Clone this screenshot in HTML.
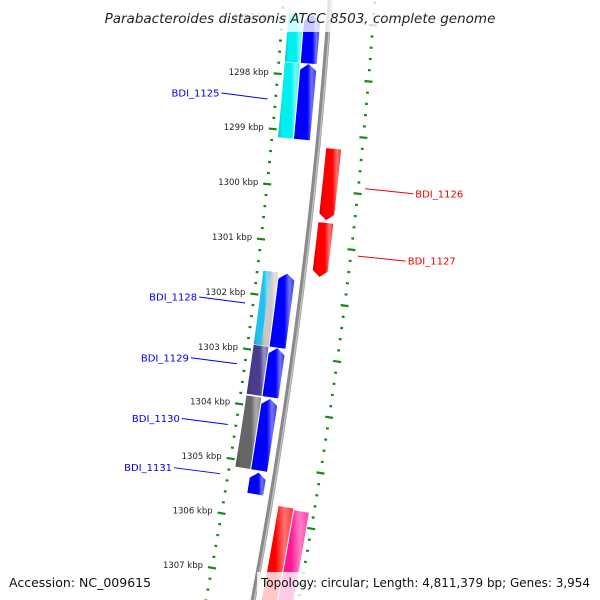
<!DOCTYPE html>
<html><head><meta charset="utf-8">
<style>
html,body{margin:0;padding:0;background:#fff;overflow:hidden;width:600px;height:600px;}
svg{display:block;font-family:"DejaVu Sans","Liberation Sans",sans-serif;overflow:hidden;}
</style></head>
<body>
<svg id="map" width="600" height="600" viewBox="0 0 600 600" xmlns="http://www.w3.org/2000/svg">
<defs id="defs"><clipPath id="frame"><rect x="0" y="0" width="600" height="600"/></clipPath></defs>
<g clip-path="url(#frame)">
<g id="ticks"></g>
<g id="backbone"></g>
<g id="genes"></g>
<g id="labels"></g>
<rect x="98" y="0" width="404" height="32" fill="#fff" fill-opacity="0.78"/>
<text x="300" y="23" text-anchor="middle" font-size="13.5" font-style="italic" fill="#222">Parabacteroides distasonis ATCC 8503, complete genome</text>
<text x="9" y="587" font-size="12.5" fill="#111">Accession: NC_009615</text>
<rect x="257" y="572" width="343" height="28" fill="#fff" fill-opacity="0.78"/>
<text x="261" y="587" font-size="12.5" textLength="329" lengthAdjust="spacingAndGlyphs" fill="#111">Topology: circular; Length: 4,811,379 bp; Genes: 3,954</text>
</g>
</svg>
<script>
// gene data (kbp)
const geneStart  = [1296.9, 1297.78, 1296.9, 1297.78, 1299.25, 1300.58, 1301.56, 1301.56, 1301.56, 1302.91, 1302.91, 1303.83, 1303.83, 1305.17, 1305.70, 1305.73];
const geneEnd    = [1297.77, 1299.14, 1297.77, 1299.14, 1300.53, 1301.55, 1302.90, 1302.90, 1302.90, 1303.80, 1303.80, 1305.13, 1305.13, 1305.56, 1308.7, 1308.7];
const geneLane   = ["cogA","cogA","rev","rev","fwd","fwd","cogA","cogB","rev","cogA","rev","cogA","rev","rev","fwd","fwd2"];
const geneArrow  = [0,0,-1,-1,1,1,0,0,-1,0,-1,0,-1,-1,0,0];
const geneColor  = ["#00f0f0","#00f0f0","#0000ff","#0000ff","#ff0000","#ff0000","#20c0f0","#c8c8c8","#0000ff","#4a3c8c","#0000ff","#666666","#0000ff","#0000ff","#ff0000","#ff1493"];
const tickMajors = [1297,1298,1299,1300,1301,1302,1303,1304,1305,1306,1307];
const labelNames = ["BDI_1125","BDI_1126","BDI_1127","BDI_1128","BDI_1129","BDI_1130","BDI_1131"];
const labelColors= ["#0000ee","#ee0000","#ee0000","#0000ee","#0000ee","#0000ee","#0000ee"];
const labelKbp   = [1298.47,1299.9,1301.1,1302.18,1303.29,1304.4,1305.3];
const labelSide  = [-1,1,1,-1,-1,-1,-1];

const NS="http://www.w3.org/2000/svg";
const R=5200, PX=55.4;
const B=[247,349], th=7.9*Math.PI/180;
const cx=B[0]-R*Math.cos(th), cy=B[1]-R*Math.sin(th);
const angB=Math.atan2(B[1]-cy,B[0]-cx);
function P(k,d){const a=angB+(k-1303)*PX/R; const r=R+d; return [cx+r*Math.cos(a), cy+r*Math.sin(a)];}
const laneD={cogA:[6,21],cogB:[13.5,21],rev:[22,38],fwd:[55,70],fwd2:[71,86]};
function mk(tag,attrs,parent){const e=document.createElementNS(NS,tag);for(const k in attrs)e.setAttribute(k,attrs[k]);parent.appendChild(e);return e;}
function pts(a){return a.map(p=>p[0].toFixed(2)+","+p[1].toFixed(2)).join(" ");}

// ticks
const tg=document.getElementById('ticks');
for(let i=0;i<=60;i++){
  const k=1296.6+i*0.2; const major=Math.abs(k-Math.round(k))<0.01;
  [0,91].forEach(d0=>{
    const len=major?4:1.4;
    const a=P(k,d0-len), b=P(k,d0+len);
    const l=mk('line',{x1:a[0],y1:a[1],x2:b[0],y2:b[1],stroke:'#138a13','stroke-width':2.2},tg);
    
    
  });
}
tickMajors.forEach(k=>{
  const p=P(k,-9);
  const t=mk('text',{x:p[0],y:p[1]+2,'text-anchor':'end','font-size':8.5,fill:'#222'},tg);
  t.textContent=k+" kbp";
  
  
});

// backbone
const bg=document.getElementById('backbone');
function band(k1,k2,d1,d2,fill,parent,arrow){
  const n=20, out=[], inn=[]; const ah=0.11;
  let a1=k1,a2=k2;
  if(arrow<0)a1=k1+ah; if(arrow>0)a2=k2-ah;
  for(let i=0;i<=n;i++){const k=a1+(a2-a1)*i/n; out.push(P(k,d1)); inn.push(P(k,d2));}
  let poly=[];
  if(arrow<0){poly.push(P(k1,(d1+d2)/2));}
  poly=poly.concat(out);
  if(arrow>0){poly.push(P(k2,(d1+d2)/2));}
  poly=poly.concat(inn.reverse());
  return mk('polygon',{points:pts(poly),fill:fill},parent);
}
let e=band(1296,1309,44,49,'#8a8a8a',bg,0);  
e=band(1296,1309,47,48.5,'#c0c0c0',bg,0);  

// genes
const gg=document.getElementById('genes');
function lighten(c,f){const n=parseInt(c.slice(1),16);let r=n>>16,g=(n>>8)&255,b=n&255;r=Math.round(r+(255-r)*f);g=Math.round(g+(255-g)*f);b=Math.round(b+(255-b)*f);return `rgb(${r},${g},${b})`;}
function darken(c,f){const n=parseInt(c.slice(1),16);let r=n>>16,g=(n>>8)&255,b=n&255;return `rgb(${Math.round(r*(1-f))},${Math.round(g*(1-f))},${Math.round(b*(1-f))})`;}
const defs=document.getElementById('defs');
geneStart.forEach((s,i)=>{
  const id='g'+i;
  const lg=mk('linearGradient',{id:id,x1:0,y1:0,x2:1,y2:0},defs);
  mk('stop',{offset:0,'stop-color':darken(geneColor[i],0.2)},lg);
  mk('stop',{offset:0.2,'stop-color':geneColor[i]},lg);
  mk('stop',{offset:0.6,'stop-color':geneColor[i]},lg);
  mk('stop',{offset:0.8,'stop-color':lighten(geneColor[i],0.45)},lg);
  mk('stop',{offset:1,'stop-color':lighten(geneColor[i],0.2)},lg);
  const d=laneD[geneLane[i]];
  const dd = geneLane[i]==='cogA' && geneColor[i]==='#20c0f0' ? [6,13.5] : d;
  const p=band(s,geneEnd[i],dd[0],dd[1],'url(#'+id+')',gg,geneArrow[i]);
  
  
});

// labels
const lgp=document.getElementById('labels');
labelNames.forEach((nm,i)=>{
  const side=labelSide[i];
  const a = side<0 ? P(labelKbp[i],-8) : P(labelKbp[i],98);
  const b = side<0 ? [a[0]-46,a[1]-6] : [a[0]+48,a[1]+5];
  const l=mk('line',{x1:a[0],y1:a[1],x2:b[0],y2:b[1],stroke:labelColors[i],'stroke-width':1},lgp);
  
  
  const t=mk('text',{x:side<0?b[0]-2:b[0]+2,y:b[1]+3.5,'text-anchor':side<0?'end':'start','font-size':10,fill:labelColors[i]},lgp);
  t.textContent=nm;
  
  
});
</script>
</body></html>
